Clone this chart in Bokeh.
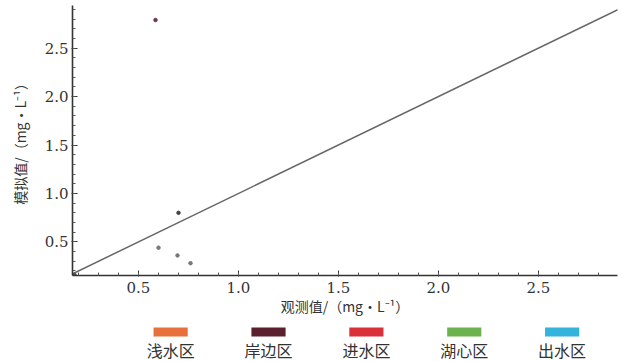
from bokeh.plotting import figure
from bokeh.layouts import column
from bokeh.models import Range1d, FixedTicker, ColumnDataSource, NumeralTickFormatter
from bokeh.embed import file_html
from bokeh.resources import INLINE
from bokeh.core.properties import value

# data
obs = [0.585, 0.70, 0.60, 0.695, 0.76, 0.18]
sim = [2.79, 0.80, 0.44, 0.36, 0.28, 0.16]
pt_colors = ["#6e3a48", "#444444", "#777777", "#777777", "#777777", "#555555"]
line_x = [0.15, 2.9]
line_y = [0.15, 2.9]
x_ticks = [0.5, 1.0, 1.5, 2.0, 2.5]
y_ticks = [0.5, 1.0, 1.5, 2.0, 2.5]
regions = ["浅水区", "岸边区", "进水区", "湖心区", "出水区"]
region_colors = ["#e8703a", "#5c1f2e", "#d9303a", "#6cb24e", "#33b4dc"]

SERIF = "DejaVu Serif"
W = 622
p = figure(width=W, height=318, output_backend="svg", toolbar_location=None,
           x_range=Range1d(0.17, 2.895), y_range=Range1d(0.153, 2.94),
           min_border_left=72, min_border_right=5, min_border_top=5, min_border_bottom=40)
p.outline_line_color = None
p.xgrid.grid_line_color = None
p.ygrid.grid_line_color = None
p.background_fill_color = "white"
p.border_fill_color = "white"

p.line(line_x, line_y, line_color="#666666", line_width=1.5)
p.scatter(obs, sim, size=3.5, color=pt_colors, marker="circle")

for ax in (p.xaxis[0], p.yaxis[0]):
    ax.axis_line_color = "#333333"
    ax.axis_line_width = 1.6
    ax.major_tick_line_color = "#333333"
    ax.minor_tick_line_color = "#555555"
    ax.major_tick_in = 5
    ax.major_tick_out = 1
    ax.minor_tick_in = 3
    ax.minor_tick_out = 0
    ax.formatter = NumeralTickFormatter(format="0.0")
    ax.major_label_text_font = SERIF
    ax.major_label_text_font_size = "15px"
    ax.major_label_text_color = "#333333"
    ax.axis_label_text_font = "Noto Sans CJK SC"
    ax.axis_label_text_font_size = "14px"
    ax.axis_label_text_font_style = "normal"
    ax.axis_label_text_color = "#333333"

p.xaxis[0].ticker = FixedTicker(ticks=x_ticks, minor_ticks=[round(0.2 + 0.1 * i, 2) for i in range(27)])
p.yaxis[0].ticker = FixedTicker(ticks=y_ticks, minor_ticks=[round(0.2 + 0.1 * i, 2) for i in range(28)])
p.xaxis[0].axis_label = "观测值/（mg·L⁻¹）"
p.yaxis[0].axis_label = "模拟值/（mg·L⁻¹）"
p.xaxis[0].major_label_standoff = 5
p.yaxis[0].major_label_standoff = 3
p.xaxis[0].axis_label_standoff = 0
p.yaxis[0].axis_label_standoff = 12

# legend strip
lg = figure(width=W, height=43, output_backend="svg", toolbar_location=None,
            x_range=Range1d(0, W), y_range=Range1d(43, 0),
            min_border=0)
lg.axis.visible = False
lg.grid.visible = False
lg.outline_line_color = None
lg.background_fill_color = "white"
lg.border_fill_color = "white"
cx = [112 + 111.7 * i for i in range(len(regions))]
src = ColumnDataSource(dict(x=cx, name=regions, c=region_colors))
lg.rect(x="x", y=13.5, width=39, height=9, fill_color="c", line_color=None, source=src)
lg.text(x="x", y=31, text="name", text_align="center", text_baseline="middle",
        text_font=value("Noto Sans CJK SC"), text_font_size="16px", text_color="#333333",
        source=src)

layout = column(p, lg, spacing=0)
open("out.html", "w").write(file_html(layout, INLINE))
